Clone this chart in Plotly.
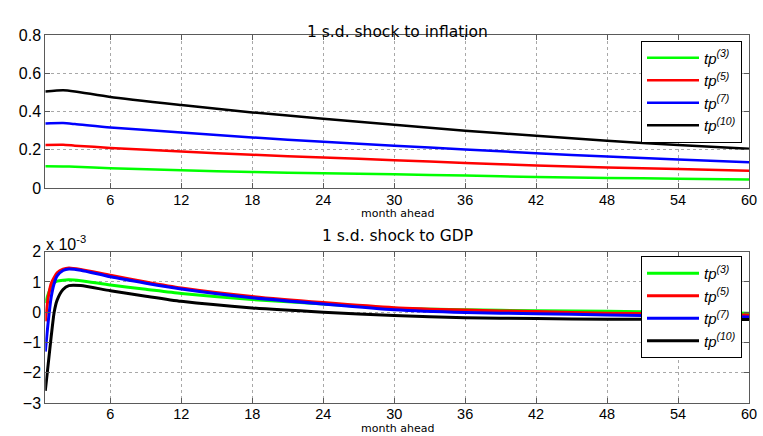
import plotly.graph_objects as go

# ---- data ----
months_top = [0.5, 2, 3, 6, 12, 18, 24, 30, 36, 42, 48, 54, 60]
infl_tp3 = [0.114, 0.113, 0.111, 0.104, 0.093, 0.084, 0.077, 0.072, 0.065, 0.058, 0.053, 0.049, 0.044]
infl_tp5 = [0.225, 0.226, 0.222, 0.210, 0.191, 0.174, 0.160, 0.146, 0.131, 0.118, 0.108, 0.099, 0.091]
infl_tp7 = [0.338, 0.340, 0.335, 0.317, 0.291, 0.265, 0.242, 0.222, 0.202, 0.182, 0.165, 0.149, 0.135]
infl_tp10 = [0.505, 0.512, 0.506, 0.477, 0.435, 0.396, 0.363, 0.331, 0.300, 0.274, 0.247, 0.225, 0.205]

months_bot = [0.5, 0.75, 1.0, 1.25, 1.5, 2, 2.5, 3.5, 6, 9, 12, 18, 24, 30, 36, 42, 48, 54, 60]
gdp_tp3 = [0.30, 0.60, 0.85, 0.97, 1.03, 1.06, 1.07, 1.04, 0.90, 0.76, 0.62, 0.42, 0.27, 0.13, 0.08, 0.05, 0.03, 0.00, -0.03]
gdp_tp5 = [-0.30, 0.50, 0.95, 1.15, 1.30, 1.42, 1.46, 1.41, 1.22, 1.00, 0.80, 0.52, 0.32, 0.15, 0.07, 0.02, -0.03, -0.06, -0.09]
gdp_tp7 = [-1.30, -0.30, 0.50, 0.95, 1.20, 1.38, 1.43, 1.39, 1.17, 0.96, 0.77, 0.48, 0.27, 0.08, -0.01, -0.05, -0.09, -0.13, -0.16]
gdp_tp10 = [-2.60, -1.70, -0.80, 0.00, 0.40, 0.75, 0.88, 0.88, 0.71, 0.53, 0.36, 0.14, 0.00, -0.11, -0.18, -0.21, -0.23, -0.24, -0.24]

names = ["<i>tp</i><sup><i>(3)</i></sup>", "<i>tp</i><sup><i>(5)</i></sup>",
         "<i>tp</i><sup><i>(7)</i></sup>", "<i>tp</i><sup><i>(10)</i></sup>"]
colors = ["#00ff00", "#ff0000", "#0000ff", "#000000"]

xticks = [6, 12, 18, 24, 30, 36, 42, 48, 54, 60]
yticks_top = [0, 0.2, 0.4, 0.6, 0.8]
yticks_top_text = ["0", "0.2", "0.4", "0.6", "0.8"]
yticks_bot = [-3, -2, -1, 0, 1, 2]

W, H = 763, 436
fig = go.Figure()

for nm, col, ys in zip(names, colors, [infl_tp3, infl_tp5, infl_tp7, infl_tp10]):
    fig.add_trace(go.Scatter(x=months_top, y=ys, mode="lines", name=nm,
                             line=dict(color=col, width=2.5, shape="spline", smoothing=0.6),
                             xaxis="x", yaxis="y", legend="legend"))
for nm, col, ys in zip(names, colors, [gdp_tp3, gdp_tp5, gdp_tp7, gdp_tp10]):
    fig.add_trace(go.Scatter(x=months_bot, y=ys, mode="lines", name=nm,
                             line=dict(color=col, width=3, shape="spline", smoothing=0.6),
                             xaxis="x2", yaxis="y2", legend="legend2"))

def px_x(p):
    return p / W

def px_y(p):
    return 1 - p / H

axis_common = dict(showline=True, linecolor="#5a5a5a", linewidth=1, mirror="allticks",
                   ticks="inside", ticklen=5, tickcolor="#5a5a5a",
                   showgrid=True, gridcolor="#a8a8a8", griddash="dot", gridwidth=1,
                   zeroline=False)
xfont = dict(family="Liberation Sans, Arial", size=14.5, color="black")
yfont = dict(family="Liberation Sans, Arial", size=16, color="black")

xdom = [px_x(45.3), px_x(749)]
legend_common = dict(xanchor="right", yanchor="top",
                     bgcolor="white", bordercolor="black", borderwidth=1,
                     font=dict(family="Liberation Sans, Arial", size=15, color="black"),
                     tracegroupgap=0, itemwidth=52)
fig.update_layout(
    width=W, height=H, margin=dict(l=0, r=0, t=0, b=0, autoexpand=False),
    paper_bgcolor="white", plot_bgcolor="white",
    xaxis=dict(domain=xdom, range=[0.5, 60], tickvals=xticks, anchor="y", tickfont=xfont,
               ticklabelstandoff=-1, **axis_common),
    yaxis=dict(domain=[px_y(188), px_y(35.3)], range=[0, 0.8], tickvals=yticks_top,
               ticktext=yticks_top_text, anchor="x", tickfont=yfont, **axis_common),
    xaxis2=dict(domain=xdom, range=[0.5, 60], tickvals=xticks, anchor="y2", tickfont=xfont,
                ticklabelstandoff=-2, **axis_common),
    yaxis2=dict(domain=[px_y(403), px_y(251.7)], range=[-3, 2], tickvals=yticks_bot,
                anchor="x2", tickfont=yfont, **axis_common),
    legend=dict(x=px_x(742), y=px_y(40.5), **legend_common),
    legend2=dict(x=px_x(742), y=px_y(256), **legend_common),
    showlegend=True,
)

title_font = dict(family="DejaVu Sans", color="black", size=15.5)
small_font = dict(family="DejaVu Sans", color="black", size=11)
fig.add_annotation(text="1 s.d. shock to inflation", x=px_x(397), y=px_y(21), xref="paper", yref="paper",
                   showarrow=False, font=title_font)
fig.add_annotation(text="month ahead", x=px_x(397), y=px_y(221), xref="paper", yref="paper",
                   yanchor="bottom", borderpad=0, showarrow=False, font=small_font)
fig.add_annotation(text="1 s.d. shock to GDP", x=px_x(397), y=px_y(236), xref="paper", yref="paper",
                   showarrow=False, font=title_font)
fig.add_annotation(text="month ahead", x=px_x(397), y=px_y(436), xref="paper", yref="paper",
                   yanchor="bottom", borderpad=0, showarrow=False, font=small_font)
fig.add_annotation(text="x 10<sup>-3</sup>", x=px_x(44), y=px_y(243), xref="paper", yref="paper",
                   xanchor="left", showarrow=False,
                   font=dict(family="Liberation Sans, Arial", color="black", size=16))

fig.write_html("out.html")
